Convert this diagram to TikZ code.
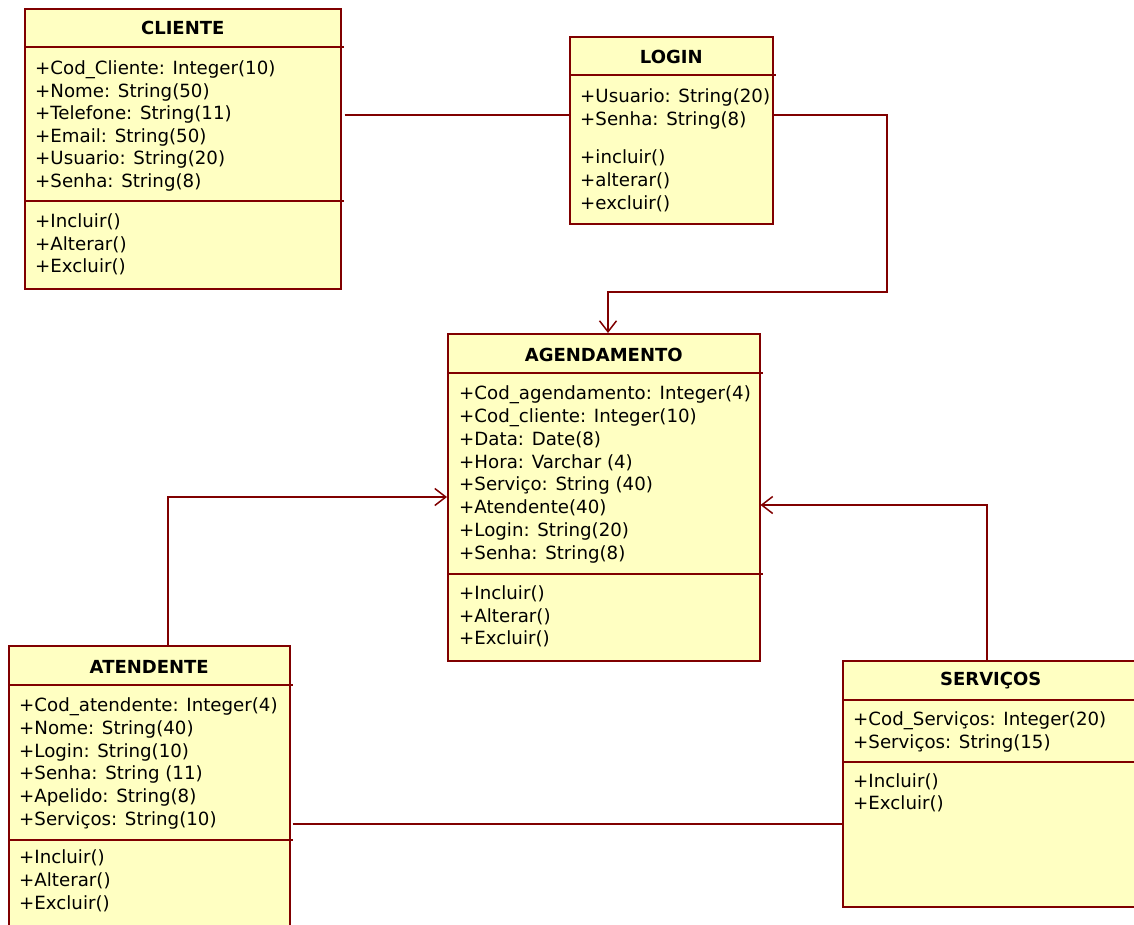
\documentclass[tikz,border=0pt]{standalone}
\usepackage{fontspec}
\setmainfont{DejaVu Sans}
\usepackage{tikz}
\usepackage{xcolor}
\usetikzlibrary{arrows.meta}
\definecolor{umlred}{RGB}{128,0,0}
\definecolor{umlfill}{RGB}{255,255,194}

\begin{document}
\begin{tikzpicture}[x=1pt,y=1pt,
	classbox/.style={draw=umlred,fill=umlfill,line width=1.5pt,anchor=north west,inner sep=0pt},
	sepline/.style={draw=umlred,line width=1.5pt},
	title/.style={font=\fontsize{18}{20}\selectfont\bfseries,inner sep=0pt},
	attr/.style={font=\fontsize{18.2}{22}\selectfont,anchor=west,inner sep=0pt,text height=16.5pt,text depth=3.5pt},
	assoc/.style={draw=umlred,line width=1.5pt},
	>={Straight Barb[length=11pt,width=17pt]}]
				\useasboundingbox (0,0) rectangle (1134,-924);
				\clip (0,0) rectangle (1134,-924);
				% Classes
				\node[classbox,minimum width=316,minimum height=280] (cliente) at (24,-8) {};
				\node[classbox,minimum width=203,minimum height=187] (login) at (569,-36) {};
				\node[classbox,minimum width=312,minimum height=327] (agend) at (447,-333) {};
				\node[classbox,minimum width=281,minimum height=300] (atend) at (8,-645) {};
				\node[classbox,minimum width=296,minimum height=246] (serv) at (842,-660) {};
				% Compartments
				\draw[sepline] ([yshift=-39]cliente.north west) -- ([yshift=-39,xshift=2]cliente.north east);
				\draw[sepline] ([yshift=-193]cliente.north west) -- ([yshift=-193,xshift=2]cliente.north east);
				\draw[sepline] ([yshift=-39]login.north west) -- ([yshift=-39,xshift=2]login.north east);
				\draw[sepline] ([yshift=-40]agend.north west) -- ([yshift=-40,xshift=2]agend.north east);
				\draw[sepline] ([yshift=-241]agend.north west) -- ([yshift=-241,xshift=2]agend.north east);
				\draw[sepline] ([yshift=-40]atend.north west) -- ([yshift=-40,xshift=2]atend.north east);
				\draw[sepline] ([yshift=-195]atend.north west) -- ([yshift=-195,xshift=2]atend.north east);
				\draw[sepline] ([yshift=-40]serv.north west) -- ([yshift=-40]serv.north east);
				\draw[sepline] ([yshift=-102]serv.north west) -- ([yshift=-102]serv.north east);
				% Titles
				\node[title] (cliente-t) at ([yshift=-20]cliente.north) {CLIENTE};
				\node[title] (login-t) at ([yshift=-21]login.north) {LOGIN};
				\node[title] (agend-t) at ([yshift=-22]agend.north) {AGENDAMENTO};
				\node[title] (atend-t) at ([yshift=-22]atend.north) {ATENDENTE};
				\node[title] (serv-t) at ([yshift=-21]serv.north) {SERVIÇOS};
				% CLIENTE
				\foreach \t [count=\i] in {+Cod\_Cliente: Integer(10),+Nome: String(50),+Telefone: String(11),+Email: String(50),+Usuario: String(20),+Senha: String(8)}
					\node[attr] (cli-a\i) at (35,{-68-22.6*(\i-1)}) {\t};
				\foreach \t [count=\i] in {+Incluir(),+Alterar(),+Excluir()}
					\node[attr] (cli-m\i) at (35,{-221-22.5*(\i-1)}) {\t};
				% LOGIN
				\foreach \t [count=\i] in {+Usuario: String(20),+Senha: String(8)}
					\node[attr] (log-a\i) at (580,{-96-22.5*(\i-1)}) {\t};
				\foreach \t [count=\i] in {+incluir(),+alterar(),+excluir()}
					\node[attr] (log-m\i) at (580,{-157-23*(\i-1)}) {\t};
				% AGENDAMENTO
				\foreach \t [count=\i] in {+Cod\_agendamento: Integer(4),+Cod\_cliente: Integer(10),+Data: Date(8),+Hora: Varchar (4),+Serviço: String (40),+Atendente(40),+Login: String(20),+Senha: String(8)}
					\node[attr] (age-a\i) at (459,{-393-22.85*(\i-1)}) {\t};
				\foreach \t [count=\i] in {+Incluir(),+Alterar(),+Excluir()}
					\node[attr] (age-m\i) at (459,{-593-22.5*(\i-1)}) {\t};
				% ATENDENTE
				\foreach \t [count=\i] in {+Cod\_atendente: Integer(4),+Nome: String(40),+Login: String(10),+Senha: String (11),+Apelido: String(8),+Serviços: String(10)}
					\node[attr] (ate-a\i) at (19,{-705-22.8*(\i-1)}) {\t};
				\foreach \t [count=\i] in {+Incluir(),+Alterar(),+Excluir()}
					\node[attr] (ate-m\i) at (19,{-857-23*(\i-1)}) {\t};
				% SERVICOS
				\foreach \t [count=\i] in {+Cod\_Serviços: Integer(20),+Serviços: String(15)}
					\node[attr] (ser-a\i) at (853,{-719-23*(\i-1)}) {\t};
				\foreach \t [count=\i] in {+Incluir(),+Excluir()}
					\node[attr] (ser-m\i) at (853,{-781-22*(\i-1)}) {\t};
				% Associations
				\coordinate (bend) at (887,-292);
				\draw[assoc] ([xshift=3,yshift=-107]cliente.north east) -- ([yshift=-79]login.north west);
				\draw[assoc,->] ([yshift=-79]login.north east) -| (bend) -| ([xshift=161]agend.north west);
				\draw[assoc,->] ([xshift=160]atend.north west) |- ([yshift=-164]agend.north west);
				\draw[assoc,->] ([xshift=145]serv.north west) |- ([yshift=-172]agend.north east);
				\draw[assoc] ([xshift=2,yshift=-179]atend.north east) -- ([yshift=-164]serv.north west);
			\end{tikzpicture}
\end{document}
